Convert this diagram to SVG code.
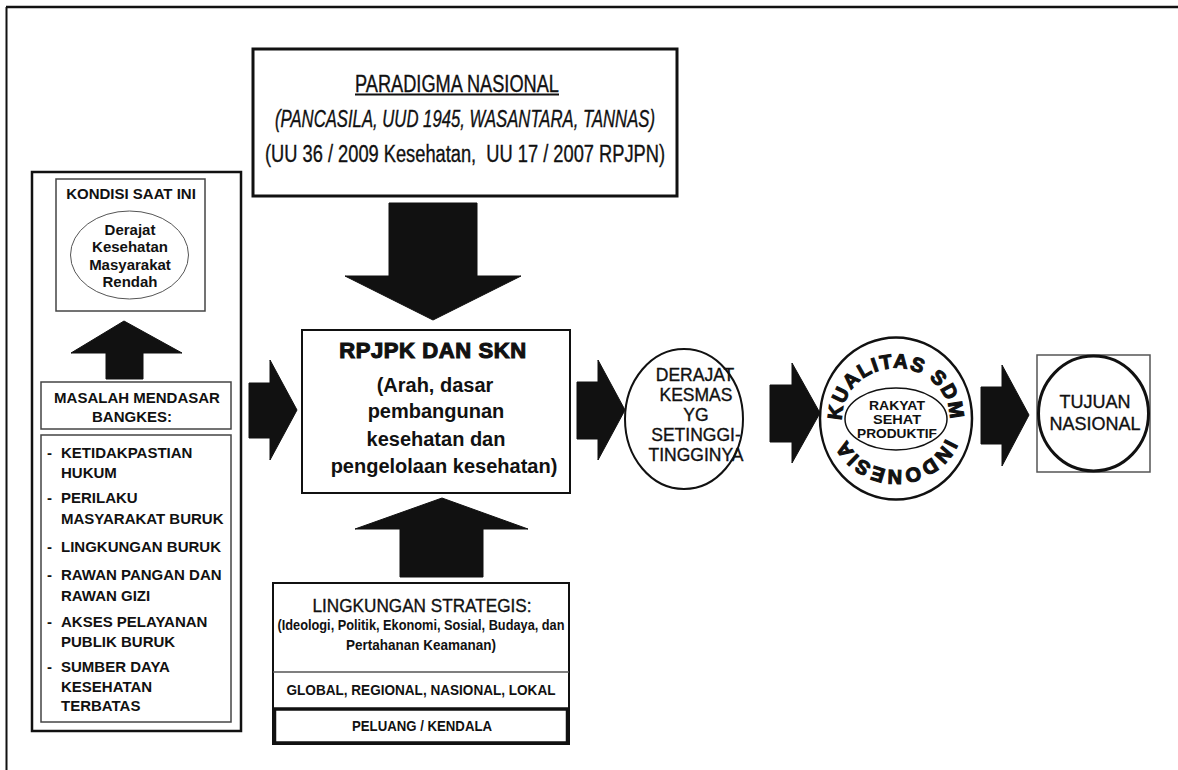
<svg xmlns="http://www.w3.org/2000/svg" width="1178" height="770" viewBox="0 0 1178 770">
<style>
  text { font-family: "Liberation Sans", Arial, sans-serif; fill: #111; }
  .b { font-weight: bold; }
  .box { fill: #fff; stroke: #111; }
  .thin { fill: #fff; stroke: #444; stroke-width: 1.5; }
  .arrow { fill: #111; stroke: #111; stroke-width: 1; stroke-linejoin: miter; }
  .c { text-anchor: middle; }
  .list { font-size: 15px; font-weight: bold; }
  .heavy { stroke: #111; stroke-width: 0.35; }
</style>
<defs>
  <path id="ring" d="M 842,419 A 54 51 0 1 1 950,419 A 54 51 0 1 1 842,419"/>
</defs>
<rect x="0" y="0" width="1178" height="770" fill="#fff"/>
<g id="frame">
  <line x1="6" y1="7" x2="1178" y2="7" stroke="#111" stroke-width="2.5"/>
  <line x1="6.5" y1="7" x2="6.5" y2="770" stroke="#111" stroke-width="2"/>
</g>

<g id="left-panel">
  <rect class="box" x="32" y="172" width="209" height="559" stroke-width="2.5"/>
</g>
<g id="kondisi">
  <rect class="thin" x="56" y="179" width="149" height="132"/>
  <text class="b c" x="131" y="199" font-size="15">KONDISI SAAT INI</text>
  <ellipse cx="129.5" cy="255" rx="59" ry="44" fill="#fff" stroke="#555" stroke-width="1"/>
  <text class="b c" x="130" y="235" font-size="15">Derajat</text>
  <text class="b c" x="130" y="252" font-size="15">Kesehatan</text>
  <text class="b c" x="130" y="270" font-size="15">Masyarakat</text>
  <text class="b c" x="130" y="287" font-size="15">Rendah</text>
</g>
<g id="masalah">
  <rect class="thin" x="41" y="382" width="190" height="47"/>
  <text class="b" x="137" y="403" font-size="15" text-anchor="middle">MASALAH MENDASAR</text>
  <text class="b" x="132" y="422" font-size="15" text-anchor="middle">BANGKES:</text>
</g>
<g id="masalah-list">
  <rect class="thin" x="41" y="435" width="190" height="287"/>
  <g class="list">
    <text x="47" y="458">-</text><text x="61" y="458">KETIDAKPASTIAN</text>
    <text x="61" y="478">HUKUM</text>
    <text x="47" y="503">-</text><text x="61" y="503">PERILAKU</text>
    <text x="61" y="524">MASYARAKAT BURUK</text>
    <text x="47" y="552">-</text><text x="61" y="552">LINGKUNGAN BURUK</text>
    <text x="47" y="580">-</text><text x="61" y="580">RAWAN PANGAN DAN</text>
    <text x="61" y="601">RAWAN GIZI</text>
    <text x="47" y="627">-</text><text x="61" y="627">AKSES PELAYANAN</text>
    <text x="61" y="647">PUBLIK BURUK</text>
    <text x="47" y="672">-</text><text x="61" y="672">SUMBER DAYA</text>
    <text x="61" y="692">KESEHATAN</text>
    <text x="61" y="711">TERBATAS</text>
  </g>
</g>

<g id="paradigma">
  <rect class="box" x="253" y="49" width="424" height="147" stroke-width="3"/>
  <text class="heavy" x="457" y="91.5" font-size="23" text-anchor="middle" textLength="204" lengthAdjust="spacingAndGlyphs">PARADIGMA NASIONAL</text>
  <line x1="355" y1="94.5" x2="559" y2="94.5" stroke="#111" stroke-width="2"/>
  <text class="heavy" x="465" y="126.5" font-size="23" font-style="italic" text-anchor="middle" textLength="380" lengthAdjust="spacingAndGlyphs">(PANCASILA, UUD 1945, WASANTARA, TANNAS)</text>
  <text class="heavy" x="465" y="161.5" font-size="23" text-anchor="middle" textLength="400" lengthAdjust="spacingAndGlyphs" xml:space="preserve">(UU 36 / 2009 Kesehatan,  UU 17 / 2007 RPJPN)</text>
</g>

<g id="rpjpk">
  <rect class="box" x="302" y="330" width="268" height="163" stroke-width="2"/>
  <text class="b c" x="433" y="358" font-size="22" letter-spacing="0.6" stroke="#111" stroke-width="1.1">RPJPK DAN SKN</text>
  <text class="b c" x="435" y="392" font-size="20">(Arah, dasar</text>
  <text class="b c" x="436" y="418" font-size="20">pembangunan</text>
  <text class="b c" x="436" y="446" font-size="20">kesehatan dan</text>
  <text class="b c" x="444" y="473" font-size="20">pengelolaan kesehatan)</text>
</g>

<g id="lingkungan">
  <rect class="box" x="273" y="583" width="296" height="161" stroke-width="2"/>
  <text class="c heavy" x="422" y="612" font-size="18" textLength="219" lengthAdjust="spacingAndGlyphs">LINGKUNGAN STRATEGIS:</text>
  <text class="b c" x="421" y="630" font-size="14.5" textLength="287" lengthAdjust="spacingAndGlyphs">(Ideologi, Politik, Ekonomi, Sosial, Budaya, dan</text>
  <text class="b c" x="421" y="650" font-size="14.5" textLength="150" lengthAdjust="spacingAndGlyphs">Pertahanan Keamanan)</text>
  <line x1="273" y1="672" x2="569" y2="672" stroke="#555" stroke-width="1.5"/>
  <text class="b c" x="421" y="695" font-size="15.5" textLength="269" lengthAdjust="spacingAndGlyphs">GLOBAL, REGIONAL, NASIONAL, LOKAL</text>
  <rect x="274.5" y="709" width="293" height="34" fill="#fff" stroke="#111" stroke-width="3.5"/>
  <text class="b c" x="422" y="731" font-size="15" textLength="140" lengthAdjust="spacingAndGlyphs">PELUANG / KENDALA</text>
</g>

<g id="derajat">
  <ellipse cx="684" cy="419" rx="59" ry="70" fill="#fff" stroke="#111" stroke-width="2"/>
  <text class="c heavy" x="695" y="381" font-size="17.5">DERAJAT</text>
  <text class="c heavy" x="696" y="401" font-size="17.5">KESMAS</text>
  <text class="c heavy" x="696" y="421" font-size="17.5">YG</text>
  <text class="c heavy" x="696" y="441" font-size="17.5">SETINGGI-</text>
  <text class="c heavy" x="696" y="461" font-size="17.5">TINGGINYA</text>
</g>

<g id="kualitas">
  <ellipse cx="896" cy="418.5" rx="76" ry="81" fill="#fff" stroke="#111" stroke-width="2.5"/>
  <ellipse cx="896" cy="419" rx="51" ry="31" fill="#fff" stroke="#111" stroke-width="1.5"/>
  <text class="b" font-size="20" letter-spacing="1.5" stroke="#111" stroke-width="1.1"><textPath href="#ring" startOffset="25%" text-anchor="middle">KUALITAS SDM</textPath></text>
  <text class="b" font-size="20" letter-spacing="1.5" stroke="#111" stroke-width="1.1"><textPath href="#ring" startOffset="75%" text-anchor="middle">INDONESIA</textPath></text>
  <text class="b c" x="897" y="410" font-size="12" textLength="56" lengthAdjust="spacingAndGlyphs">RAKYAT</text>
  <text class="b c" x="897" y="424" font-size="12" textLength="48" lengthAdjust="spacingAndGlyphs">SEHAT</text>
  <text class="b c" x="897" y="438" font-size="12" textLength="80" lengthAdjust="spacingAndGlyphs">PRODUKTIF</text>
</g>

<g id="tujuan">
  <rect x="1037" y="355" width="113" height="117" fill="#fff" stroke="#555" stroke-width="1.5"/>
  <ellipse cx="1093.5" cy="413.5" rx="55" ry="57.5" fill="none" stroke="#111" stroke-width="3"/>
  <text class="c heavy" x="1095" y="408" font-size="18">TUJUAN</text>
  <text class="c heavy" x="1095" y="430" font-size="18">NASIONAL</text>
</g>

<g id="connectors">
  <polygon class="arrow" points="389,203 477,203 477,276 521,276 433,320 345,276 389,276"/>
  <polygon class="arrow" points="400,577 483,577 483,529 528,529 442,498 355,529 400,529"/>
  <polygon class="arrow" points="106,379 143,379 143,353 182,353 124,321 71,353 106,353"/>
  <polygon class="arrow" points="249,383 270,383 270,360 297,410 270,460 270,438 249,438"/>
  <polygon class="arrow" points="577,382 598,382 598,360 625,410 598,460 598,439 577,439"/>
  <polygon class="arrow" points="770,385 792,385 792,363 820,413 792,463 792,442 770,442"/>
  <polygon class="arrow" points="981,387 1002,387 1002,365 1029,415 1002,466 1002,444 981,444"/>
</g>
</svg>
